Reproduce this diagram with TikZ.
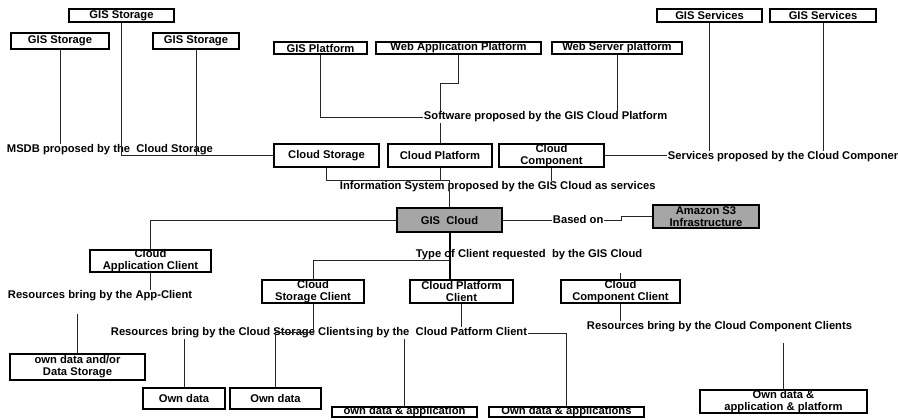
\documentclass[tikz,border=0pt]{standalone}
\usepackage{fontspec}
\setmainfont{Liberation Sans}
\usetikzlibrary{calc}
\begin{document}
\begin{tikzpicture}[x=0.75pt,y=-0.75pt,
  font=\fontsize{8.4}{9}\selectfont\bfseries,
  box/.style={draw=black, line width=1.5pt, fill=white, inner sep=0pt, align=center},
  shaded/.style={box, fill=gray!70},
  wh/.style 2 args={minimum width=#1*0.75pt-1.5pt, minimum height=#2*0.75pt-1.5pt},
  lbl/.style={inner sep=0.5pt, anchor=west},
  link/.style={draw=black!85, line width=0.75pt},
  trunk/.style={draw=black, line width=1.5pt}]
\useasboundingbox (0,0) rectangle (898,419);

% --- storage, platform and service boxes along the top
\node[box, wh={107}{15}] (gsTop) at (121.5,15.5) {GIS Storage};
\node[box, wh={100}{18}] (gsLeft) at (60,41) {GIS Storage};
\node[box, wh={88}{18}]  (gsMid) at (196,41) {GIS Storage};
\node[box, wh={95}{14}]  (gisPlat) at (320.5,48) {GIS Platform};
\node[box, wh={167}{14}] (webApp) at (458.5,48) {Web Application Platform};
\node[box, wh={132}{14}] (webSrv) at (617,48) {Web Server platform};
\node[box, wh={107}{15}] (svcA) at (709.5,15.5) {GIS Services};
\node[box, wh={108}{15}] (svcB) at (823,15.5) {GIS Services};

% --- cloud layer
\node[box, wh={107}{25}] (cStor) at (326.5,155.5) {Cloud Storage};
\node[box, wh={106}{25}] (cPlat) at (440,155.5) {Cloud Platform};
\node[box, wh={107}{25}] (cComp) at (551.5,155.5) {Cloud\\Component};
\node[shaded, wh={107}{26}] (gisCloud) at (449.5,220) {GIS\ \ Cloud};
\node[shaded, wh={108}{25}] (amazon) at (706,216.5) {Amazon S3\\Infrastructure};

% --- clients
\node[box, wh={123}{24}] (appCl) at (150.5,261) {Cloud\\Application Client};
\node[box, wh={104}{25}] (storCl) at (313,291.5) {Cloud\\Storage Client};
\node[box, wh={105}{25}] (platCl) at (461.5,291.5) {Cloud Platform\\Client};
\node[box, wh={121}{25}] (compCl) at (620.5,291.5) {Cloud\\Component Client};

% --- resources
\node[box, wh={137}{28}] (ownDS) at (77.5,367) {own data and/or\\Data Storage};
\node[box, wh={84}{23}]  (ownA) at (184,398.5) {Own data};
\node[box, wh={93}{23}]  (ownB) at (275.5,398.5) {Own data};
\node[box, wh={147}{12}] (ownAppA) at (404.5,412) {own data \& application};
\node[box, wh={157}{12}] (ownAppB) at (566.5,412) {Own data \& applications};
\node[box, wh={169}{23}] (ownAll) at (783.5,401.5) {Own data \&\\application \& platform};

% --- free text labels
\node[lbl] (msdb) at (6,150) {MSDB proposed by the\ \ Cloud Storage};
\node[lbl, fill=white] (soft) at (423,117) {Software proposed by the GIS Cloud Platform};
\node[lbl] (svcLbl) at (667,157) {Services proposed by the Cloud Components};
\node[lbl] (info) at (339,187) {Information System proposed by the GIS Cloud as services};
\node[lbl] (based) at (552,219) {Based on};
\node[lbl] (typeCl) at (415,255) {Type of Client requested\ \ by the GIS Cloud};
\node[lbl] (resApp) at (7,296) {Resources bring by the App-Client};
\node[lbl, anchor=east] (resPlat) at (528,333) {Resources bring by the\ \ Cloud Patform Client};
\node[lbl, fill=white] (resStor) at (110,333) {Resources bring by the Cloud Storage Clients};
\node[lbl] (resComp) at (586,327) {Resources bring by the Cloud Component Clients};

% --- connectors
\draw[link] (gsTop.south) |- (cStor.west);
\draw[link] (gsMid.south) -- (gsMid.south |- cStor.west);
\draw[link] (gsLeft.south) -- (gsLeft.south |- msdb.north);
\draw[link] (gisPlat.south) |- (soft.west);
\draw[link] (webApp.south) -- ++(0,28) -| (soft.north -| cPlat.north);
\draw[link] (soft.south -| cPlat.north) -- (cPlat.north);
\draw[link] (webSrv.south) -- (webSrv.south |- soft.north);
\draw[link] (svcA.south) -- (svcA.south |- svcLbl.north);
\draw[link] (svcB.south) -- (svcB.south |- svcLbl.north);
\draw[link] (cComp.east) -- (cComp.east -| svcLbl.west);
\draw[link] (cStor.south) -- ++(0,12) -| (gisCloud.north);
\draw[link] (cPlat.south) -- ++(0,12);
\draw[link] (cComp.south) -- (cComp.south |- info.north);
\draw[link] (gisCloud.west) -| (appCl.north);
\draw[link] (gisCloud.east) -- (gisCloud.east -| based.west);
\draw[link] (based.east |- gisCloud.east) -- ++(17,0) |- (amazon.west);
\draw[trunk] (gisCloud.south) -- (gisCloud.south |- platCl.north);
\draw[link] ($(gisCloud.south)+(0,27)$) -| (storCl.north);
\draw[link] (compCl.north) -- ++(0,-6);
\draw[link] (appCl.south) -- (appCl.south |- resApp.north);
\draw[link] (ownDS.north) -- ++(0,-39);
\draw[link] (storCl.south) -- ++(0,28) -| (ownB.north);
\draw[link] (ownA.north) -- (ownA.north |- resStor.south);
\draw[link] (platCl.south) -- (platCl.south |- resPlat.north);
\draw[link] (resPlat.east) -| (ownAppB.north);
\draw[link] (ownAppA.north) -- (ownAppA.north |- resPlat.south);
\draw[link] (compCl.south) -- (compCl.south |- resComp.north);
\draw[link] (ownAll.north) -- ++(0,-46);
\end{tikzpicture}
\end{document}
